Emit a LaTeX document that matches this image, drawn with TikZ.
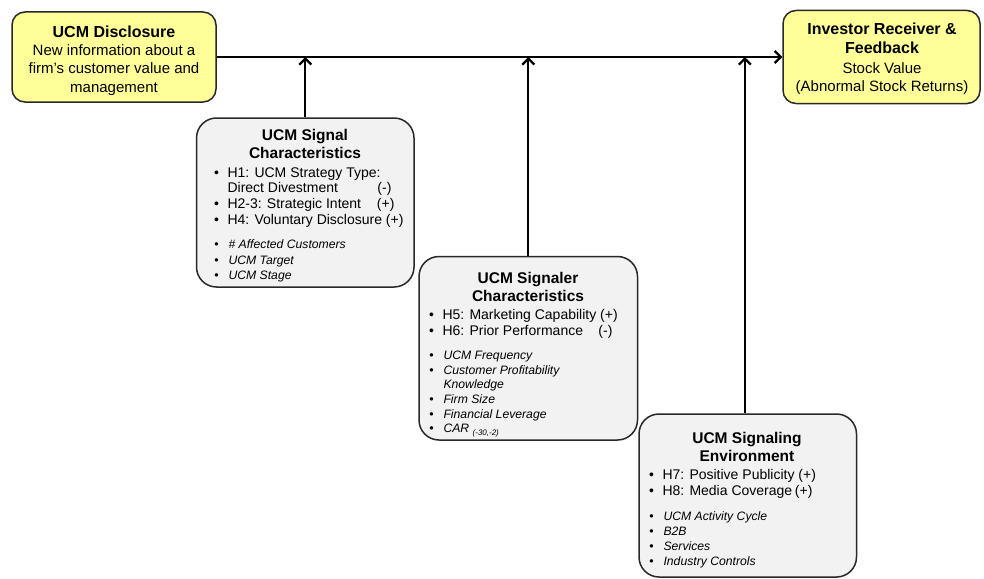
\documentclass[tikz,border=0pt]{standalone}
\usepackage{fontspec}
\setmainfont{Liberation Sans}
\usetikzlibrary{arrows.meta}
\definecolor{ybox}{RGB}{255,255,153}
\definecolor{gbox}{RGB}{242,242,242}
\definecolor{edge}{RGB}{40,40,40}
\newcounter{tn}
\newcommand\ttl[3]{\stepcounter{tn}\node[anchor=base,font=\fontsize{16}{18}\selectfont\bfseries] (t\arabic{tn}) at (#1,#2) {#3};}
\newcommand\itl[3]{\stepcounter{tn}\node[anchor=base,font=\fontsize{15.5}{18}\selectfont\bfseries] (t\arabic{tn}) at (#1,#2) {#3};}
\newcommand\otx[3]{\stepcounter{tn}\node[anchor=base,font=\fontsize{15}{18}\selectfont] (t\arabic{tn}) at (#1,#2) {#3};}
% bullet line regular: bullet x, text x, baseline, text
\newcommand\bl[4]{\stepcounter{tn}\node[anchor=base,font=\fontsize{14}{16}\selectfont] (b\arabic{tn}) at (#1,#3) {•};\node[anchor=base west,font=\fontsize{14}{16}\selectfont] (t\arabic{tn}) at (#2,#3) {#4};}
\newcommand\cl[3]{\stepcounter{tn}\node[anchor=base west,font=\fontsize{14}{16}\selectfont] (t\arabic{tn}) at (#1,#2) {#3};}
\newcommand\sg[3]{\stepcounter{tn}\node[anchor=base east,font=\fontsize{14}{16}\selectfont] (s\arabic{tn}) at (#1,#2) {#3};}
% italic bullet line
\newcommand\il[4]{\stepcounter{tn}\node[anchor=base,font=\fontsize{12.5}{15}\selectfont] (b\arabic{tn}) at (#1,#3) {•};\node[anchor=base west,font=\fontsize{12.2}{15}\selectfont\itshape] (t\arabic{tn}) at (#2,#3) {#4};}
\newcommand\icl[3]{\stepcounter{tn}\node[anchor=base west,font=\fontsize{12.2}{15}\selectfont\itshape] (t\arabic{tn}) at (#1,#2) {#3};}
\tikzset{
  outerbox/.style={draw=edge,line width=1.5pt,fill=ybox,rounded corners=13pt,inner sep=0pt},
  innerbox/.style={draw=edge,line width=1.5pt,fill=gbox,rounded corners=20pt,inner sep=0pt},
  flow/.style={line width=2.3pt,-{Straight Barb[length=6pt,width=12pt,line width=2.3pt]}},
}
\begin{document}
\begin{tikzpicture}[x=1pt,y=-1pt]
\useasboundingbox[fill=white] (0,0) rectangle (984,578);
% boxes
\node[outerbox,minimum width=204pt,minimum height=90pt] (disc) at (114,57) {};
\node[outerbox,minimum width=197pt,minimum height=93pt] (inv) at (881.5,57) {};
\node[innerbox,minimum width=217.5pt,minimum height=169pt] (sig) at (305.25,202.5) {};
\node[innerbox,minimum width=218.5pt,minimum height=183.5pt] (slr) at (528.25,348.25) {};
\node[innerbox,minimum width=217.5pt,minimum height=163pt] (env) at (747.75,495.5) {};
% connectors
\draw[flow] (disc.east) -- (inv.west);
\draw[flow] (sig.north) -- (sig.north |- disc.east);
\draw[flow] (slr.north) -- (slr.north |- disc.east);
\draw[flow] ([xshift=-3pt]env.north) -- ([xshift=-3pt]env.north |- disc.east);
% disclosure text
\ttl{114}{37.5}{UCM Disclosure}
\otx{114}{56}{New information about a}
\otx{114}{74}{firm’s customer value and}
\otx{114}{92}{management}
% investor text
\ttl{882}{35}{Investor Receiver \&}
\ttl{882}{54}{Feedback}
\otx{882}{73}{Stock Value}
\otx{882}{91}{(Abnormal Stock Returns)}
% signal characteristics
\itl{305}{140.5}{UCM Signal}
\itl{305}{158.5}{Characteristics}
\bl{216.5}{224}{177}{H1: UCM Strategy Type:}
\cl{224}{192}{Direct Divestment}
\sg{395}{192}{(-)}
\bl{216.5}{224}{208}{H2-3: Strategic Intent}
\sg{398}{208}{(+)}
\bl{216.5}{224}{224}{H4: Voluntary Disclosure (+)}
\il{216.5}{225}{248.5}{\# Affected Customers}
\il{216.5}{225}{264}{UCM Target}
\il{216.5}{225}{279}{UCM Stage}
% signaler characteristics
\itl{528}{283.5}{UCM Signaler}
\itl{528}{301.5}{Characteristics}
\bl{431.5}{439}{319}{H5: Marketing Capability (+)}
\bl{431.5}{439}{335}{H6: Prior Performance}
\sg{616}{335}{(-)}
\il{431.5}{440}{359.5}{UCM Frequency}
\il{431.5}{440}{374}{Customer Profitability}
\icl{440}{388.5}{Knowledge}
\il{431.5}{440}{403.5}{Firm Size}
\il{431.5}{440}{418}{Financial Leverage}
\il{431.5}{440}{432.5}{CAR \raisebox{-3pt}{\fontsize{8}{9}\selectfont(-30,-2)}}
% signaling environment
\itl{747}{443.5}{UCM Signaling}
\itl{747}{461.5}{Environment}
\bl{651.5}{659}{479}{H7: Positive Publicity (+)}
\bl{651.5}{659}{495}{H8: Media Coverage}
\sg{816}{495}{(+)}
\il{651.5}{660}{520.5}{UCM Activity Cycle}
\il{651.5}{660}{535.5}{B2B}
\il{651.5}{660}{550}{Services}
\il{651.5}{660}{565}{Industry Controls}
\end{tikzpicture}
\end{document}
